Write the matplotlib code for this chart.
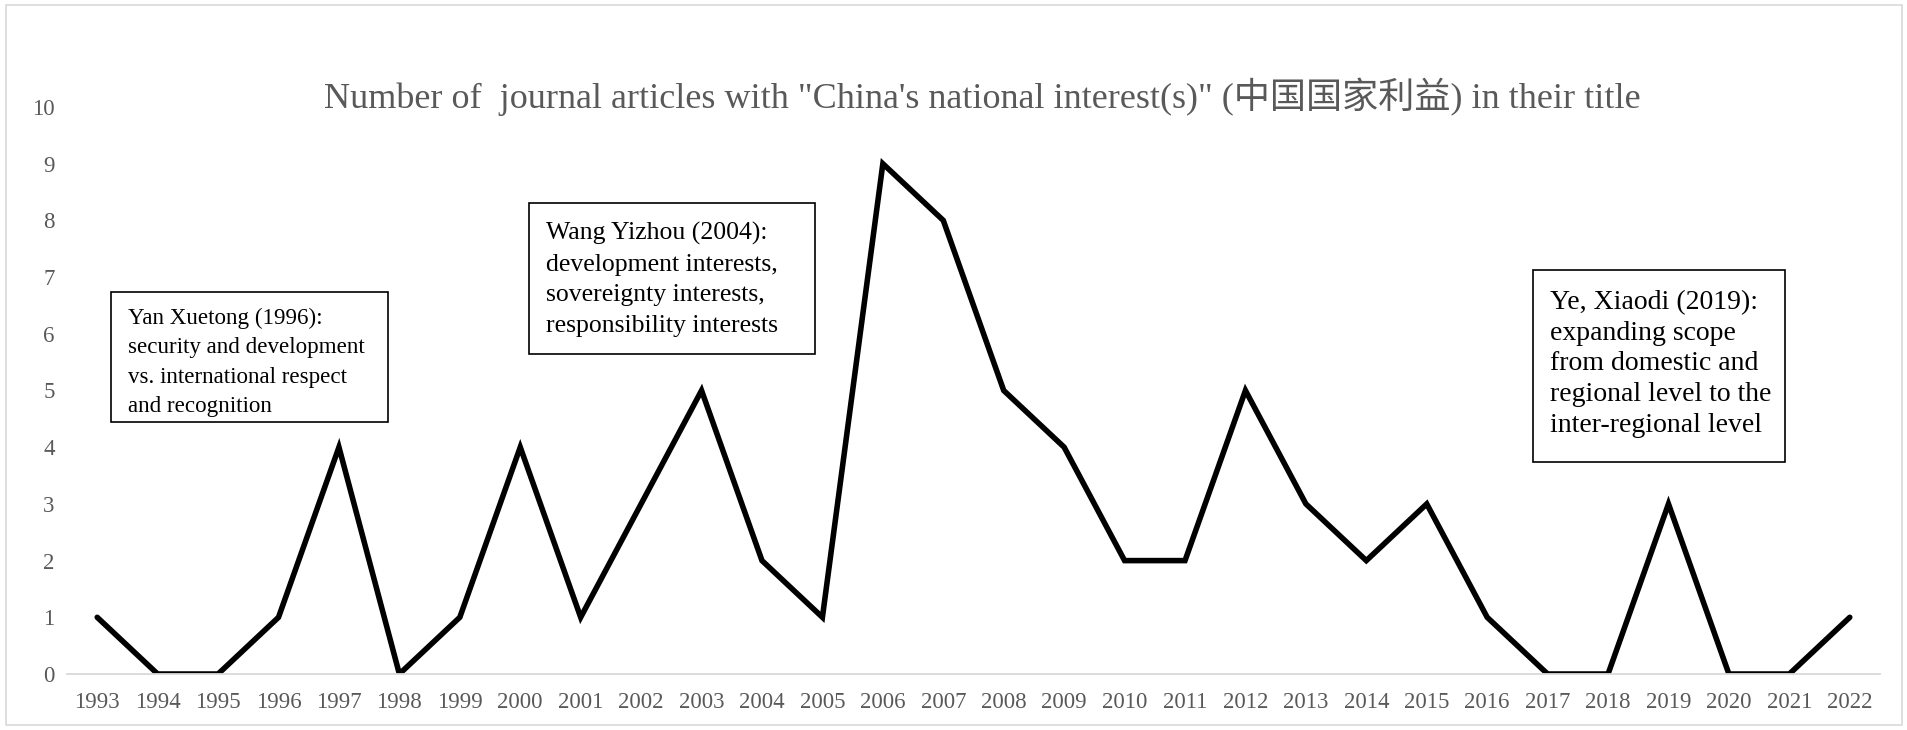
import matplotlib
matplotlib.use("Agg")
import matplotlib.pyplot as plt
from matplotlib.patches import Rectangle
import numpy as np

# articles per year with the phrase in the title
years = ['1993', '1994', '1995', '1996', '1997', '1998', '1999', '2000', '2001', '2002',
         '2003', '2004', '2005', '2006', '2007', '2008', '2009', '2010', '2011', '2012',
         '2013', '2014', '2015', '2016', '2017', '2018', '2019', '2020', '2021', '2022']
counts = [1, 0, 0, 1, 4, 0, 1, 4, 1, 3,
          5, 2, 1, 9, 8, 5, 4, 2, 2, 5,
          3, 2, 3, 1, 0, 0, 3, 0, 0, 1]

title = 'Number of  journal articles with "China\'s national interest(s)" (中国国家利益) in their title'

notes = [
    "Yan Xuetong (1996):\nsecurity and development\nvs. international respect\nand recognition",
    "Wang Yizhou (2004):\ndevelopment interests,\nsovereignty interests,\nresponsibility interests",
    "Ye, Xiaodi (2019):\nexpanding scope\nfrom domestic and\nregional level to the\ninter-regional level",
]
# box corners in pixels: left, top, right, bottom
note_boxes = [(111, 292, 388, 422), (529, 203, 815, 354), (1533, 270, 1785, 462)]
# font size, line spacing, top offset of the text inside each box
note_fonts = [(16.6, 1.51, 16), (18.5, 1.5, 19), (20, 1.3, 20)]

plt.rcParams['font.family'] = ['Liberation Serif', 'Noto Sans CJK SC']

W, H = 1908, 730
fig = plt.figure(figsize=(W / 100, H / 100), dpi=100)
ax = fig.add_axes([67 / W, 56 / H, 1813 / W, 567 / H])

x = np.arange(len(years))
ax.plot(x, counts, color='black', lw=4, solid_joinstyle='miter', solid_capstyle='round')

ax.set_xlim(-0.5, len(years) - 0.5)
ax.set_ylim(0, 10)
ax.set_xticks(x)
ax.set_xticklabels(years)
ax.set_yticks(range(0, 11))
ax.tick_params(length=0, labelsize=16.5, colors='#595959', pad=13)
ax.tick_params(axis='y', pad=9)
for s in ['top', 'right', 'left']:
    ax.spines[s].set_visible(False)
ax.spines['bottom'].set_color('#d9d9d9')
ax.spines['bottom'].set_linewidth(1.3)

fig.text(982 / W, 1 - 97 / H, title, ha='center', va='center',
         fontsize=26, color='#595959')

for text, (l, t, r, b), (fs, ls, dy) in zip(notes, note_boxes, note_fonts):
    fig.patches.append(Rectangle((l / W, 1 - b / H), (r - l) / W, (b - t) / H,
                                 transform=fig.transFigure, fill=False,
                                 edgecolor='black', lw=1.2))
    fig.text((l + 17) / W, 1 - (t + dy) / H, text, ha='left', va='top',
             fontsize=fs, linespacing=ls, color='black')

# light frame around the chart area
fig.patches.append(Rectangle((6 / W, 5 / H), (W - 12) / W, (H - 10) / H,
                             transform=fig.transFigure, fill=False,
                             edgecolor='#d9d9d9', lw=1.2))

fig.savefig('out.png', dpi=100)
